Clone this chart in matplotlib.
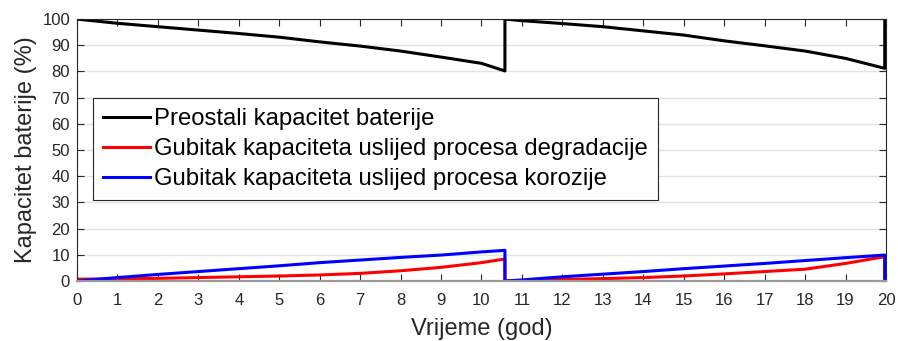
import matplotlib
matplotlib.use("Agg")
import matplotlib.pyplot as plt

# vrijeme (god) - dvostruke vrijednosti daju okomite skokove kod zamjene baterije
t = [0, 1, 2, 3, 4, 5, 6, 7, 8, 9, 10, 10.58,
     10.58, 11, 12, 13, 14, 15, 16, 17, 18, 19, 19.97,
     19.97]
preostali = [100, 98.4, 97.1, 95.8, 94.5, 93.1, 91.3, 89.7, 87.8, 85.5, 83.1, 80.2,
             100, 99.4, 98.3, 97.1, 95.5, 93.9, 91.7, 89.8, 87.8, 85.0, 81.2,
             100]
degradacija = [0.7, 0.8, 1.0, 1.3, 1.6, 1.9, 2.3, 2.9, 3.9, 5.2, 7.0, 8.4,
               0, 0.1, 0.6, 0.9, 1.3, 1.9, 2.7, 3.6, 4.5, 6.7, 9.3,
               0]
korozija = [0, 1.3, 2.5, 3.6, 4.7, 5.8, 7.0, 8.0, 9.0, 9.9, 11.1, 11.7,
            0, 0.4, 1.6, 2.6, 3.6, 4.7, 5.7, 6.7, 7.8, 8.9, 9.9,
            0]

labels = ['Preostali kapacitet baterije',
          'Gubitak kapaciteta uslijed procesa degradacije',
          'Gubitak kapaciteta uslijed procesa korozije']

plt.rcParams['font.family'] = ['Liberation Sans', 'DejaVu Sans']

fig = plt.figure(figsize=(8.98, 3.41), dpi=100)
ax = fig.add_axes([0.0857, 0.176, 0.9009, 0.768])

ax.plot(t, preostali, color='black', lw=2.2, label=labels[0])
ax.plot(t, degradacija, color='red', lw=2.2, label=labels[1])
ax.plot(t, korozija, color='blue', lw=2.2, label=labels[2])

ax.set_xlim(0, 20)
ax.set_ylim(0, 100)
ax.set_xticks(range(0, 21))
ax.set_yticks(range(0, 101, 10))
ax.yaxis.grid(True, color='#e3e3e3', lw=1)
ax.set_axisbelow(True)

ax.tick_params(direction='in', length=5, width=0.8, top=True, right=True,
               labelsize=12, colors='#262626', pad=5)
ax.tick_params(axis='x', pad=9)
for side in ['left', 'top', 'right']:
    ax.spines[side].set_color('#262626')
    ax.spines[side].set_linewidth(0.8)
ax.spines['bottom'].set_color('#9a9a9a')
ax.spines['bottom'].set_linewidth(1.6)

ax.set_xlabel('Vrijeme (god)', fontsize=17, color='#262626', labelpad=7)
ax.set_ylabel('Kapacitet baterije (%)', fontsize=17, color='#262626', labelpad=4)

leg = ax.legend(loc='upper left', bbox_to_anchor=(0.0198, 0.698), borderaxespad=0,
                fontsize=17.2, handlelength=1.95, handletextpad=0.2, labelspacing=0.33,
                borderpad=0.42, fancybox=False, framealpha=1, edgecolor='#262626')
leg.get_frame().set_linewidth(0.8)

fig.savefig('out.png', dpi=100)
